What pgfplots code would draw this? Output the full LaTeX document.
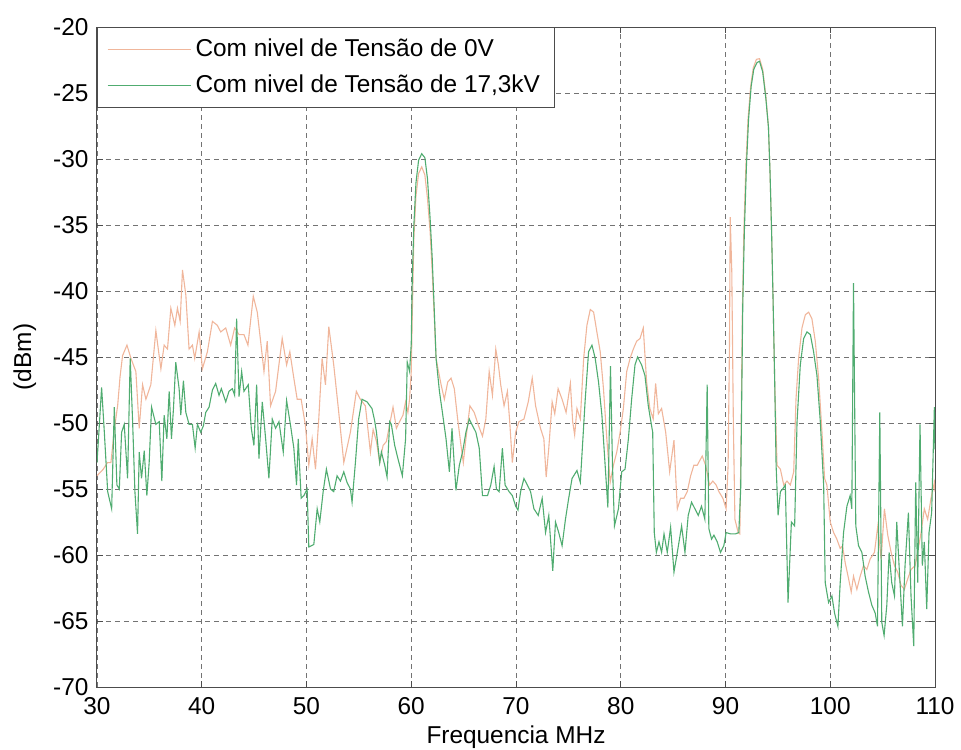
\documentclass[border=0pt]{standalone}
\usepackage{fontspec}
\setmainfont{Liberation Sans}
\usepackage{pgfplots}
\pgfplotsset{compat=1.18}
\definecolor{czero}{RGB}{240,182,155}
\definecolor{cseventeen}{RGB}{80,172,112}
\begin{document}
\fontsize{12.2}{14.6}\selectfont
\begin{tikzpicture}
\useasboundingbox (-48.5pt,-31pt) rectangle (432pt,343.5pt);
\begin{axis}[
  scale only axis, width=419pt, height=330pt,
  xmin=30, xmax=110, ymin=-70, ymax=-20,
  xtick={30,40,...,110}, ytick={-70,-65,...,-20},
  /pgf/number format/assume math mode=true,
  tick label style={font=\fontsize{12.2}{14.6}\selectfont},
  xticklabel style={yshift=-1pt},
  label style={font=\fontsize{12.2}{14.6}\selectfont},
  axis line style={black!70, line width=0.5pt},
  major tick length=3pt,
  tick style={black!70, line width=0.5pt},
  grid=major,
  major grid style={black!55, line width=0.4pt, dash pattern=on 2.5pt off 2pt},
  xlabel={Frequencia MHz},
  ylabel={(dBm)},
  xlabel style={at={(axis description cs:0.5,0)}, anchor=center, yshift=-25pt},
  ylabel style={at={(axis description cs:-0.086,0.5)}, anchor=center, rotate=0},
  legend style={at={(0,1)}, anchor=north west, draw=black!70, fill=white,
    font=\fontsize{12.2}{14.6}\selectfont, inner xsep=5pt, inner ysep=3.5pt, row sep=3.5pt},
  legend cell align=left,
  legend image code/.code={\draw[#1] (0pt,0pt) -- (38.5pt,0pt); \path (0pt,0pt) -- (41.5pt,0pt);},
]
\addplot[czero, line width=0.55pt] coordinates {
(30.0,-54.0) (30.6,-53.5) (31.0,-53.0) (31.33,-53.0) (31.65,-50.5) (31.97,-48.7) (32.2,-46.5) (32.44,-44.9) (32.86,-44.1) (33.24,-45.1) (33.71,-46.1) (34.03,-50.4) (34.35,-47.1) (34.67,-48.2) (35.14,-47.1) (35.62,-43.0) (36.1,-45.9) (36.41,-44.1) (36.73,-44.4) (37.05,-41.3) (37.43,-42.6) (37.68,-41.3) (37.94,-42.3) (38.16,-38.4) (38.48,-40.3) (38.79,-44.4) (39.11,-44.1) (39.33,-45.1) (39.75,-43.1) (40.06,-45.9) (40.54,-44.6) (41.02,-42.3) (41.49,-42.6) (41.81,-43.1) (42.29,-42.8) (42.76,-44.1) (43.14,-42.8) (43.56,-43.3) (44.03,-43.3) (44.41,-44.1) (44.92,-40.4) (45.3,-41.6) (45.62,-43.8) (45.94,-46.1) (46.25,-43.8) (46.57,-48.7) (47.05,-47.6) (47.68,-43.6) (48.1,-45.6) (48.41,-44.6) (48.79,-46.6) (49.11,-48.2) (49.49,-48.2) (49.9,-50.2) (50.22,-53.2) (50.54,-51.2) (50.86,-53.5) (51.17,-49.7) (51.49,-45.1) (51.81,-47.1) (52.13,-42.7) (52.6,-45.6) (53.08,-49.2) (53.56,-53.0) (54.19,-50.7) (54.76,-47.6) (55.14,-48.2) (55.62,-48.7) (56.1,-52.2) (56.36,-50.5) (56.68,-51.4) (56.99,-53.0) (57.31,-51.7) (57.63,-51.4) (57.94,-50.1) (58.26,-48.8) (58.58,-50.4) (58.89,-49.9) (59.21,-49.4) (59.46,-48.4) (59.68,-49.2) (59.84,-48.2)
(60.0,-46.1) (60.1,-41.8) (60.25,-36) (60.45,-32.8) (60.7,-31.1) (61.0,-30.6) (61.3,-31.2) (61.55,-33) (61.8,-35.5) (62.0,-38.5) (62.2,-42) (62.37,-45.1) (62.53,-45.8) (62.85,-47.1) (63.16,-48.2) (63.48,-46.9) (63.8,-46.6) (64.11,-47.4) (64.43,-49.7) (64.75,-51.7) (64.97,-53.0) (65.22,-51.2) (65.6,-48.7) (66.01,-49.2) (66.42,-50.2) (66.8,-51.0) (67.12,-49.7) (67.44,-46.1) (67.75,-47.9) (68.07,-44.4) (68.32,-45.6) (68.54,-47.1) (68.86,-48.7) (69.18,-47.6) (69.4,-49.9) (69.65,-53.0) (69.97,-50.7) (70.28,-49.9) (70.76,-49.7) (71.17,-48.4) (71.55,-46.6) (71.87,-48.7) (72.34,-50.4) (72.66,-51.2) (72.88,-54.1) (73.13,-51.9) (73.45,-48.4) (73.7,-49.3) (74.02,-47.4) (74.4,-48.2) (74.78,-49.2) (75.19,-47.0) (75.41,-49.9) (75.6,-50.9) (75.82,-48.9) (76.14,-49.7) (76.46,-45.1) (76.77,-42.6) (77.09,-41.4) (77.41,-41.6) (77.72,-43.1) (78.04,-44.6) (78.35,-47.4) (78.67,-51.2) (78.99,-54.5) (79.3,-53.2) (79.62,-52.2) (79.94,-50.7) (80.25,-48.9) (80.57,-46.1) (80.89,-45.1) (81.2,-44.4) (81.52,-43.8) (81.84,-43.6) (82.15,-42.8) (82.47,-46.9) (82.78,-48.9) (83.1,-49.7)
(83.33,-47.0) (83.59,-49.3) (83.9,-48.9) (84.29,-50.7) (84.67,-53.7) (85.08,-51.3) (85.4,-56.5) (85.71,-55.7) (86.03,-55.7) (86.35,-55.2) (86.67,-54.0) (86.98,-53.2) (87.3,-53.2) (87.78,-52.5) (88.1,-53.2) (88.48,-54.7) (88.79,-54.4) (89.11,-54.7) (89.37,-55.2) (89.75,-55.7) (90.06,-56.5) (90.25,-53.2) (90.38,-44) (90.45,-34.4) (90.6,-38.5) (90.75,-50) (90.9,-57.3) (91.21,-58.3) (91.37,-58.4)
(91.5,-50) (91.6,-42) (91.75,-35.5) (91.95,-30.5) (92.15,-27) (92.4,-24.5) (92.65,-23.1) (92.95,-22.45) (93.25,-22.4) (93.55,-23.2) (93.85,-25.2) (94.1,-27.6) (94.25,-31) (94.4,-35.5) (94.55,-41) (94.7,-47) (94.92,-53.2) (95.24,-53.5) (95.56,-54.7) (95.87,-54.4) (96.19,-54.7) (96.51,-53.7) (96.73,-48.2) (96.98,-45.1) (97.3,-42.8) (97.62,-41.8) (97.94,-41.6) (98.25,-42.1) (98.57,-43.8) (98.89,-46.6) (99.21,-50.7) (99.46,-54.2) (99.68,-54.7) (100.0,-57.5) (100.32,-58.3) (100.63,-58.8) (100.95,-59.5) (101.17,-59.3) (101.43,-60.6) (101.75,-61.8) (102.0,-62.8) (102.22,-61.6) (102.54,-62.6) (102.86,-61.6) (103.17,-60.8) (103.49,-61.1) (103.81,-60.3) (104.22,-59.8) (104.54,-57.8) (104.86,-60.3) (105.17,-56.5) (105.49,-58.5) (105.81,-59.8) (106.13,-60.8) (106.44,-61.3) (106.76,-62.3) (107.08,-62.6) (107.4,-61.8) (107.71,-61.1) (108.1,-60.8) (108.41,-59.5) (108.67,-58.3) (108.98,-56.5) (109.3,-57.3) (109.62,-55.7) (109.94,-54.5) (110,-55.2)
};
\addlegendentry{Com nivel de Tensão de 0V}
\addplot[cseventeen, line width=0.55pt] coordinates {
(30.0,-53) (30.22,-50.2) (30.44,-47.3) (30.7,-50.7) (31.02,-55.2) (31.4,-56.5) (31.65,-48.8) (31.9,-54.7) (32.13,-55.0) (32.35,-50.7) (32.6,-50.1) (32.92,-54.2) (33.17,-45.1) (33.4,-49.9) (33.62,-55.2) (33.87,-58.4) (34.03,-52.2) (34.25,-54.2) (34.51,-52.1) (34.76,-55.5) (34.98,-53.0) (35.21,-48.8) (35.62,-50.1) (35.94,-49.9) (36.19,-54.4) (36.41,-49.4) (36.67,-51.2) (36.89,-47.6) (37.11,-51.2) (37.3,-48.9) (37.52,-45.4) (37.84,-47.4) (38.0,-49.4) (38.25,-46.8) (38.48,-49.2) (38.79,-50.1) (39.11,-50.1) (39.37,-51.9) (39.59,-50.1) (39.9,-50.7) (40.16,-50.2) (40.38,-49.2) (40.7,-48.8) (41.02,-47.5) (41.33,-47.0) (41.65,-47.9) (41.87,-47.4) (42.29,-48.4) (42.6,-47.6) (42.92,-47.4) (43.14,-47.9) (43.33,-42.1) (43.56,-48.0) (43.81,-46.1) (44.03,-47.6) (44.44,-47.1) (44.73,-50.4) (44.98,-51.7) (45.24,-47.1) (45.46,-52.7) (45.78,-48.4) (46.1,-51.2) (46.41,-54.2) (46.73,-49.7) (47.05,-50.4) (47.37,-49.9) (47.78,-52.2) (48.1,-48.3) (48.48,-50.2) (48.79,-51.9) (49.05,-54.7) (49.21,-51.2) (49.49,-55.7) (49.75,-55.5) (50.06,-55.0) (50.22,-59.4) (50.7,-59.2) (51.02,-56.5) (51.27,-57.5) (51.59,-55.2) (51.9,-53.5) (52.29,-55.0) (52.6,-55.2) (52.92,-54.0) (53.24,-54.4) (53.56,-53.7) (53.87,-54.5) (54.19,-55.0) (54.35,-56.0) (54.67,-53.0) (54.98,-49.7) (55.3,-48.2) (55.78,-48.4) (56.25,-48.9) (56.5,-49.8) (56.68,-50.7) (56.99,-53.0) (57.15,-52.2) (57.47,-53.2) (57.69,-54.1) (57.94,-49.9) (58.1,-50.1) (58.42,-51.7) (58.73,-52.7) (59.15,-54.0) (59.46,-51.2) (59.62,-45.4) (59.84,-46.1)
(60.0,-44) (60.1,-39) (60.25,-35) (60.45,-31.8) (60.7,-30.1) (61.0,-29.6) (61.3,-29.9) (61.55,-31.5) (61.8,-34.5) (62.0,-37.5) (62.2,-41.5) (62.37,-45.1) (62.69,-47.6) (63.01,-49.4) (63.32,-51.2) (63.64,-53.7) (63.89,-50.4) (64.11,-53.2) (64.27,-55.1) (64.59,-53.2) (64.9,-52.2) (65.22,-50.7) (65.54,-49.7) (65.85,-50.2) (66.17,-50.7) (66.49,-51.9) (66.8,-55.5) (67.28,-55.5) (67.59,-54.7) (67.91,-53.3) (68.13,-55.0) (68.39,-55.2) (68.7,-51.9) (68.96,-54.7) (69.34,-55.2) (69.65,-55.5) (69.97,-56.3) (70.19,-56.6) (70.44,-55.2) (70.76,-54.2) (71.08,-54.7) (71.39,-55.2) (71.71,-56.5) (72.12,-57.0) (72.5,-55.7) (72.82,-58.3) (73.13,-57.0) (73.51,-61.2) (73.77,-57.5) (74.08,-58.3) (74.4,-59.3) (74.72,-57.3) (75.03,-55.7) (75.35,-54.2) (75.82,-53.6) (76.14,-54.5) (76.61,-48.2) (76.93,-44.6) (77.25,-44.1) (77.56,-45.1) (77.88,-46.9) (78.2,-49.4) (78.51,-53.2) (78.77,-56.4) (79.02,-45.7) (79.21,-53.2) (79.4,-57.8) (79.78,-56.5) (80.09,-53.7) (80.41,-53.5) (80.73,-51.2) (81.04,-48.2) (81.36,-45.6) (81.61,-45.0) (81.99,-45.6) (82.31,-46.4) (82.63,-48.7) (82.94,-50.2) (83.05,-50.7)
(83.2,-58.3) (83.4,-59.8) (83.65,-59.0) (83.9,-59.8) (84.13,-58.4) (84.44,-59.8) (84.76,-57.9) (85.08,-61.3) (85.4,-59.8) (85.81,-57.8) (86.13,-59.8) (86.44,-57.0) (86.76,-56.0) (87.08,-56.5) (87.4,-57.0) (87.71,-56.3) (88.03,-57.3) (88.25,-47.1) (88.41,-58.0) (88.67,-58.8) (88.89,-58.5) (89.21,-59.0) (89.52,-59.8) (89.84,-59.3) (90.06,-58.3) (90.48,-58.4) (90.95,-58.4) (91.27,-58.3) (91.45,-55)
(91.55,-48) (91.65,-41) (91.8,-35.5) (92.0,-30.5) (92.2,-27) (92.45,-24.5) (92.7,-23.2) (93.0,-22.7) (93.25,-22.6) (93.55,-23.4) (93.85,-25.4) (94.1,-27.6) (94.25,-31) (94.4,-35.5) (94.55,-41) (94.7,-47) (94.83,-53.2) (95.02,-57.0) (95.24,-55.2) (95.46,-55.0) (95.71,-54.7) (95.97,-63.6) (96.29,-57.5) (96.6,-57.8) (96.83,-49.9) (97.14,-45.6) (97.46,-43.6) (97.78,-43.1) (98.1,-43.3) (98.41,-44.6) (98.73,-46.4) (99.05,-49.9) (99.37,-54.7) (99.52,-62.1) (99.84,-63.6) (100.16,-63.1) (100.41,-64.4) (100.73,-65.4) (100.95,-62.1) (101.27,-58.3) (101.59,-56.3) (101.9,-55.5) (102.06,-56.5) (102.22,-39.4) (102.44,-57.8) (102.7,-59.3) (103.02,-59.8) (103.33,-61.6) (103.65,-62.8) (103.97,-63.8) (104.29,-64.4) (104.51,-65.4) (104.73,-49.2) (104.92,-65.1) (105.14,-66.1) (105.4,-63.8) (105.62,-59.8) (105.87,-62.1) (106.13,-63.1) (106.35,-57.5) (106.57,-60.8) (106.89,-65.4) (107.14,-60.8) (107.46,-56.8) (107.71,-63.1) (107.97,-66.9) (108.16,-54.5) (108.35,-62.1) (108.57,-50.1) (108.79,-60.8) (108.98,-59.0) (109.21,-64.1) (109.43,-58.3) (109.68,-56.8) (109.94,-48.8) (110.0,-52.0)
};
\addlegendentry{Com nivel de Tensão de 17,3kV\hspace{5pt}}
\end{axis}
\end{tikzpicture}
\end{document}
